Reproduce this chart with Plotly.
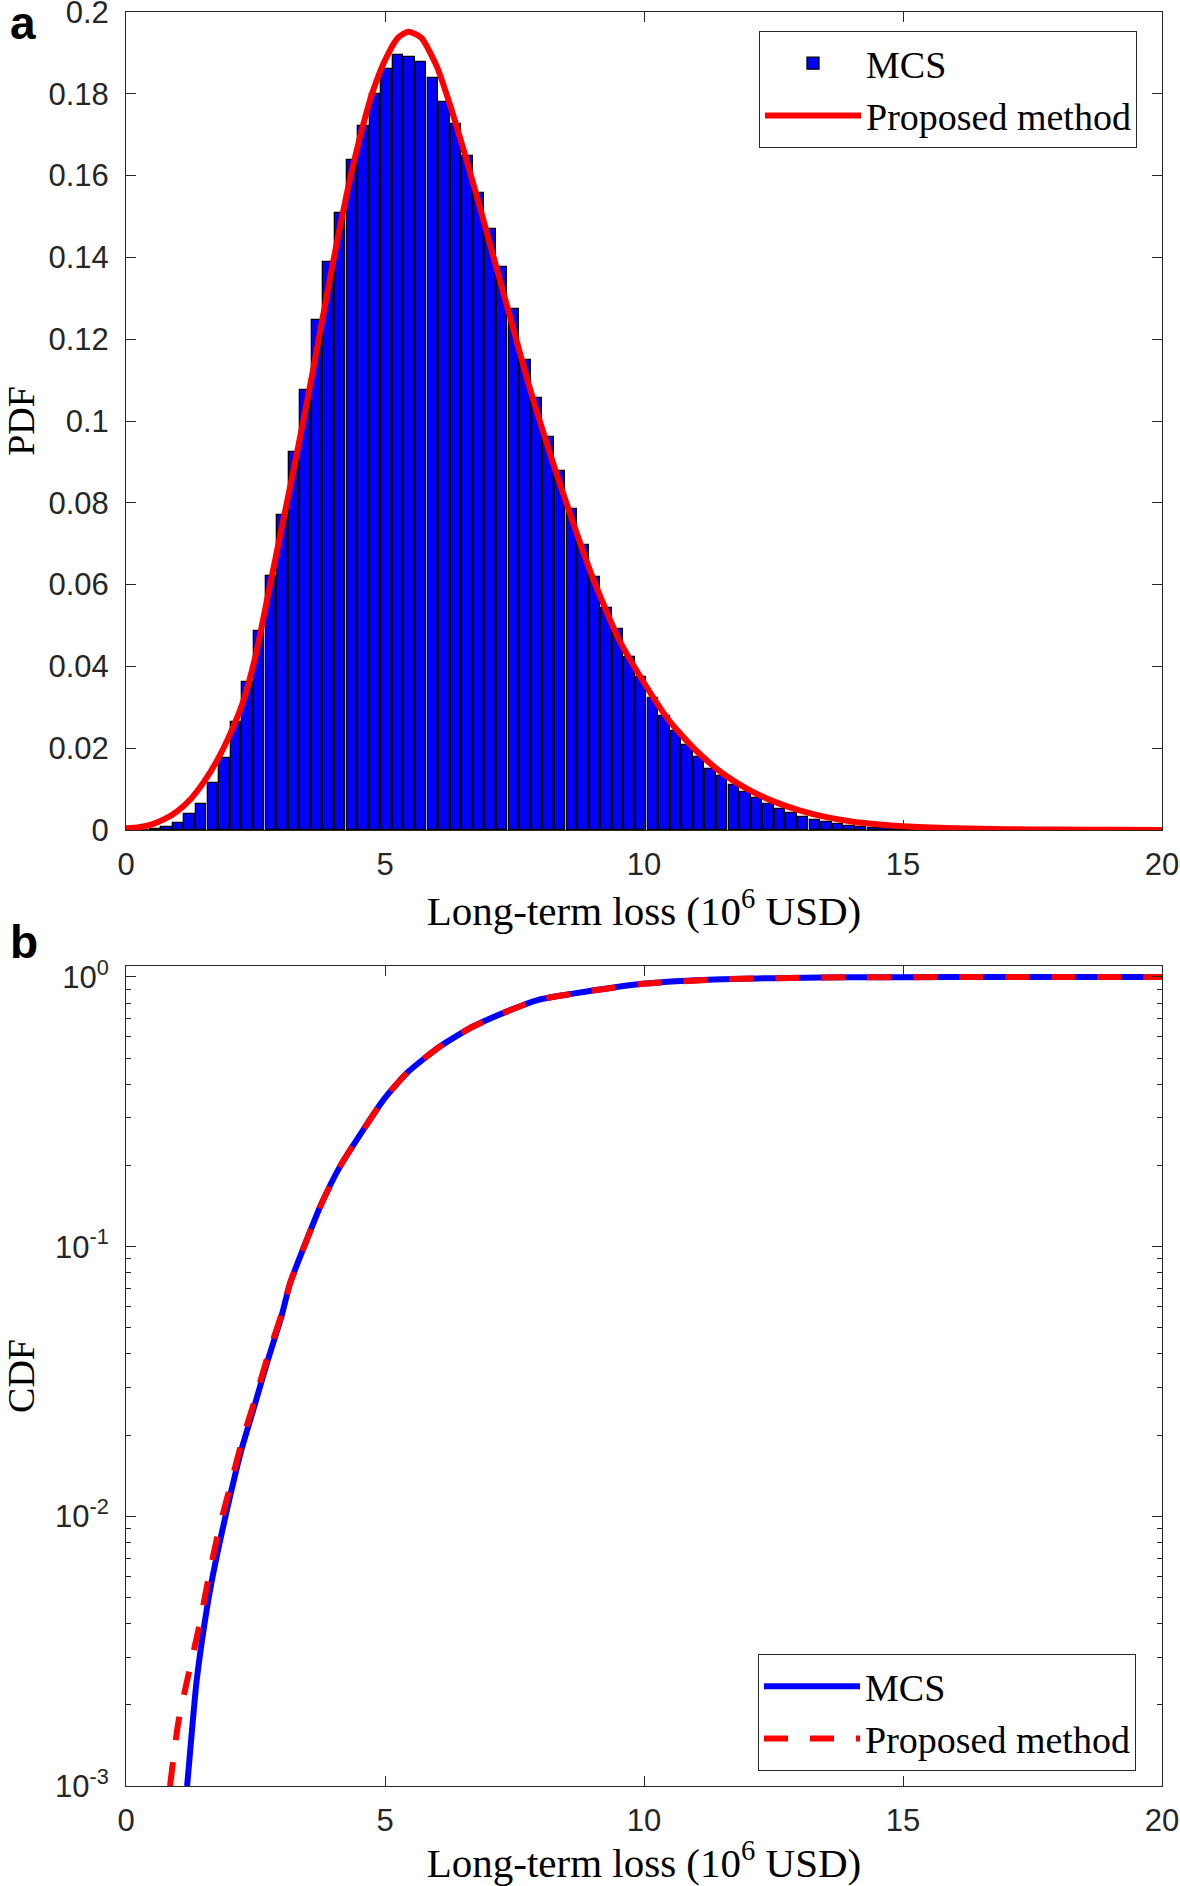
import plotly.graph_objects as go

# ---------------- data ----------------
# (a) histogram of MCS long-term loss, PDF-normalised, bins of equal width starting at 0
bin_width = 0.2235
mcs_pdf = [
    0.0000, 0.0001, 0.0003, 0.0008, 0.0018, 0.0038, 0.0064, 0.0114, 0.0177, 0.0265,
    0.0363, 0.0487, 0.0621, 0.0769, 0.0923, 0.1077, 0.1247, 0.1388, 0.1508, 0.1637,
    0.1722, 0.1800, 0.1860, 0.1895, 0.1890, 0.1877, 0.1838, 0.1779, 0.1726, 0.1648,
    0.1558, 0.1470, 0.1376, 0.1273, 0.1149, 0.1057, 0.0962, 0.0878, 0.0786, 0.0697,
    0.0619, 0.0544, 0.0491, 0.0424, 0.0375, 0.0322, 0.0278, 0.0242, 0.0209, 0.0178,
    0.0149, 0.0131, 0.0111, 0.0092, 0.0078, 0.0064, 0.0051, 0.0041, 0.0031, 0.0024,
    0.0019, 0.0015, 0.0011, 0.0008, 0.0006, 0.0004, 0.0003, 0.0002, 0.0002, 0.0001,
    0.0001,
]

# (a) PDF of the proposed method
pdf_loss = [0, 0.25, 0.5, 0.75, 1.0, 1.25, 1.5, 1.75, 2.0, 2.25, 2.5, 2.75, 3.0, 3.25,
            3.5, 3.75, 4.0, 4.25, 4.5, 4.75, 5.0, 5.25, 5.45, 5.7, 6.0, 6.25, 6.5, 6.75,
            7.0, 7.25, 7.5, 7.75, 8.0, 8.25, 8.5, 9.0, 9.5, 10.0, 10.5, 11.0, 11.5, 12.0,
            12.5, 13.0, 13.5, 14.0, 14.5, 15.0, 16.0, 17.0, 18.0, 19.0, 20.0]
pdf_proposed = [0.0004, 0.0007, 0.0014, 0.0027, 0.0047, 0.0076, 0.0117, 0.0168, 0.0232,
                0.0310, 0.0425, 0.0580, 0.0735, 0.0890, 0.1050, 0.1220, 0.1390, 0.1548,
                0.1685, 0.1800, 0.1882, 0.1937, 0.1952, 0.1937, 0.1867, 0.1775, 0.1670,
                0.1560, 0.1445, 0.1330, 0.1215, 0.1100, 0.0995, 0.0895, 0.0800, 0.0620,
                0.0470, 0.0360, 0.0265, 0.0195, 0.0140, 0.0100, 0.0070, 0.0048, 0.0032,
                0.0021, 0.0014, 0.0009, 0.0004, 0.0002, 0.0001, 0.00005, 0.00003]

# (b) CDF, MCS
cdf_mcs_loss = [1.18, 1.27, 1.36, 1.49, 1.65, 1.85, 2.04, 2.23, 2.46, 2.72, 3.0, 3.17,
                3.49, 3.75, 4.13, 4.58, 4.97, 5.42, 6.06, 6.70, 7.35, 7.96, 8.84, 10.03,
                11.49, 12.8, 14.0, 16.0, 18.0, 20.0]
cdf_mcs = [0.001, 0.00158, 0.00242, 0.00371, 0.00568, 0.0087, 0.0126, 0.0177, 0.0249,
           0.037, 0.055, 0.0734, 0.106, 0.141, 0.198, 0.271, 0.35, 0.44, 0.552, 0.655,
           0.744, 0.822, 0.88, 0.945, 0.98, 0.992, 0.997, 0.999, 1.0, 1.0]

# (b) CDF, proposed method
cdf_prop_loss = [0.85, 1.01, 1.20, 1.40, 1.59, 1.78, 2.01, 2.23, 2.49, 2.75, 3.0, 3.17,
                 3.49, 3.75, 4.13, 4.58, 4.97, 5.42, 6.06, 6.70, 7.35, 7.96, 8.84, 10.03,
                 11.49, 12.8, 14.0, 16.0, 18.0, 20.0]
cdf_prop = [0.001, 0.00172, 0.00256, 0.00381, 0.00585, 0.0087, 0.0129, 0.0187, 0.0271,
            0.0400, 0.056, 0.0734, 0.106, 0.141, 0.198, 0.271, 0.35, 0.44, 0.552, 0.655,
            0.744, 0.822, 0.88, 0.945, 0.98, 0.992, 0.997, 0.999, 1.0, 1.0]

# ticks
x_ticks = [0, 5, 10, 15, 20]
x_tick_labels = ["0", "5", "10", "15", "20"]
pdf_ticks = [0, 0.02, 0.04, 0.06, 0.08, 0.1, 0.12, 0.14, 0.16, 0.18, 0.2]
pdf_tick_labels = ["0", "0.02", "0.04", "0.06", "0.08", "0.1", "0.12", "0.14", "0.16", "0.18", "0.2"]
cdf_ticks = [0.001, 0.01, 0.1, 1]
cdf_tick_labels = ["10<sup>-3</sup>", "10<sup>-2</sup>", "10<sup>-1</sup>", "10<sup>0</sup>"]
cdf_minor_ticks = [m * 10.0 ** e for e in (-3, -2, -1) for m in range(2, 10)]

series_names = ["MCS", "Proposed method"]
x_title = "Long-term loss (10<sup>6</sup> USD)"

# ---------------- layout geometry (pixels) ----------------
W, H = 1180, 1886
LEFT, RIGHT = 126, 1162
A_TOP, A_BOT = 12, 830
B_TOP, B_BOT = 966, 1786


def fx(p):
    return p / W


def fy(p):
    return 1 - p / H


bin_centers = [(i + 0.5) * bin_width for i in range(len(mcs_pdf))]

AXC = "#262626"
SANS = "Liberation Sans, Arial, sans-serif"
SERIF = "Liberation Serif, Times New Roman, serif"

fig = go.Figure()
fig.add_trace(go.Bar(
    x=bin_centers, y=mcs_pdf, width=0.9 * bin_width, name=series_names[0],
    marker=dict(color="#0000FF", line=dict(color="#000000", width=1.3)),
    xaxis="x", yaxis="y", legend="legend",
))
fig.add_trace(go.Scatter(
    x=pdf_loss, y=pdf_proposed, mode="lines", name=series_names[1],
    line=dict(color="#FF0000", width=6, shape="spline", smoothing=0.6),
    xaxis="x", yaxis="y", legend="legend",
))
fig.add_trace(go.Scatter(
    x=cdf_mcs_loss, y=cdf_mcs, mode="lines", name=series_names[0],
    line=dict(color="#0000FF", width=6, shape="spline", smoothing=0.6),
    xaxis="x2", yaxis="y2", legend="legend2",
))
fig.add_trace(go.Scatter(
    x=cdf_prop_loss, y=cdf_prop, mode="lines", name=series_names[1],
    line=dict(color="#FF0000", width=6, dash="24px,22px", shape="spline", smoothing=0.6),
    xaxis="x2", yaxis="y2", legend="legend2",
))

common = dict(
    showline=True, linecolor=AXC, linewidth=1, mirror="allticks",
    ticks="inside", ticklen=10, tickwidth=1, tickcolor=AXC,
    showgrid=False, zeroline=False, automargin=False,
    ticklabeloverflow="allow",
    tickfont=dict(family=SANS, size=31, color=AXC),
)
xcommon = dict(common, range=[0, 20], tickmode="array", tickvals=x_ticks,
               ticktext=x_tick_labels, domain=[fx(LEFT), fx(RIGHT)],
               ticklabelstandoff=7)
x_title_font = dict(family=SERIF, size=41, color="#000000")
y_title_font = dict(family=SERIF, size=38, color="#000000")
legend_font = dict(family=SERIF, size=38, color="#000000")

fig.update_layout(
    width=W, height=H,
    margin=dict(l=0, r=0, t=0, b=0),
    paper_bgcolor="white", plot_bgcolor="white",
    bargap=0,
    showlegend=True,
    xaxis=dict(xcommon, anchor="y",
               title=dict(text=x_title, font=x_title_font, standoff=0)),
    yaxis=dict(common, anchor="x", range=[0, 0.2], tickmode="array",
               tickvals=pdf_ticks, ticktext=pdf_tick_labels,
               domain=[fy(A_BOT), fy(A_TOP)], ticklabelstandoff=10,
               title=dict(text="PDF", font=y_title_font, standoff=22)),
    xaxis2=dict(xcommon, anchor="y2",
                title=dict(text=x_title, font=x_title_font, standoff=0)),
    yaxis2=dict(common, anchor="x2", type="log", range=[-3, 0.0407],
                tickmode="array", tickvals=cdf_ticks, ticktext=cdf_tick_labels,
                domain=[fy(B_BOT), fy(B_TOP)], ticklabelstandoff=10,
                minor=dict(ticks="inside", ticklen=5, tickwidth=1, tickcolor=AXC,
                           tickmode="array", tickvals=cdf_minor_ticks, showgrid=False),
                title=dict(text="CDF", font=y_title_font, standoff=22)),
    legend=dict(x=fx(1137), y=fy(31), xanchor="right", yanchor="top",
                bgcolor="white", bordercolor=AXC, borderwidth=1,
                font=legend_font, itemwidth=96, tracegroupgap=0),
    legend2=dict(x=fx(1136), y=fy(1654), xanchor="right", yanchor="top",
                 bgcolor="white", bordercolor=AXC, borderwidth=1,
                 font=legend_font, itemwidth=96, tracegroupgap=0),
    annotations=[
        dict(text="<b>a</b>", x=fx(8), y=fy(23), xref="paper", yref="paper",
             xanchor="left", yanchor="middle", showarrow=False,
             font=dict(family=SANS, size=46, color="#000000")),
        dict(text="<b>b</b>", x=fx(8), y=fy(942), xref="paper", yref="paper",
             xanchor="left", yanchor="middle", showarrow=False,
             font=dict(family=SANS, size=46, color="#000000")),
    ],
)

fig.write_html("out.html", config={"displayModeBar": False},
               post_script="document.body.style.margin='0';")
